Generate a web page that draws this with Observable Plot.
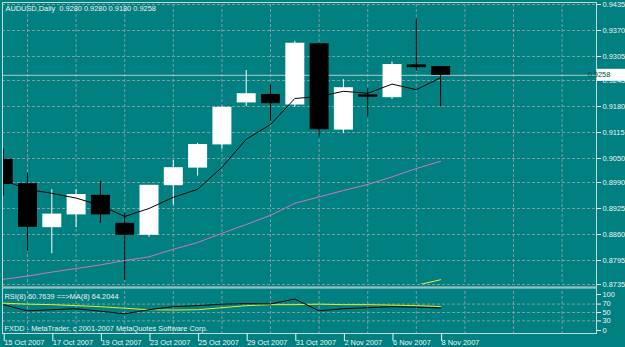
<!DOCTYPE html>
<html><head><meta charset="utf-8">
<script src="https://cdn.jsdelivr.net/npm/d3@7"></script>
<script src="https://cdn.jsdelivr.net/npm/@observablehq/plot@0.6"></script>
<style>
html,body{margin:0;padding:0;background:#008080;}
#wrap{position:relative;width:625px;height:347px;background:#008080;overflow:hidden;}
#wrap svg{position:absolute;left:0;background:transparent;overflow:visible;}
</style></head><body><div id="wrap"></div>
<script>
// ---- data ----
const dates = ["15 Oct 2007","16 Oct 2007","17 Oct 2007","18 Oct 2007","19 Oct 2007","22 Oct 2007","23 Oct 2007","24 Oct 2007","25 Oct 2007","26 Oct 2007","29 Oct 2007","30 Oct 2007","31 Oct 2007","1 Nov 2007","2 Nov 2007","5 Nov 2007","6 Nov 2007","7 Nov 2007","8 Nov 2007"];
const open  = [0.9048,0.8987,0.8877,0.8909,0.8958,0.8888,0.8858,0.8982,0.9026,0.9084,0.9189,0.9210,0.9184,0.9337,0.9121,0.9209,0.9202,0.9284,0.9280];
const high  = [0.9074,0.9013,0.8972,0.8972,0.8993,0.8913,0.8983,0.9045,0.9088,0.9180,0.9270,0.9234,0.9343,0.9338,0.9247,0.9224,0.9291,0.9398,0.9280];
const low   = [0.8956,0.8818,0.8812,0.8877,0.8888,0.8745,0.8853,0.8933,0.9006,0.9073,0.9180,0.9143,0.9178,0.9103,0.9112,0.9153,0.9198,0.9268,0.9180];
const close = [0.8985,0.8878,0.8911,0.8960,0.8909,0.8858,0.8983,0.9027,0.9085,0.9178,0.9212,0.9187,0.9338,0.9122,0.9227,0.9203,0.9285,0.9277,0.9258];
const maFast = [0.8996,0.8973,0.8963,0.8951,0.8933,0.8905,0.8925,0.8953,0.8973,0.9028,0.9098,0.9135,0.9200,0.9205,0.9218,0.9213,0.9236,0.9222,0.9252];
const maSlow = [0.8748,0.8756,0.8766,0.8775,0.8784,0.8795,0.8804,0.8823,0.8840,0.8863,0.8885,0.8908,0.8938,0.8954,0.8970,0.8985,0.9004,0.9025,0.9043];
const maThirdIdx = [17,18];
const maThird = [0.8733,0.8747];
const rsi   = [68.7,54.0,56.6,59.0,53.0,47.0,56.6,63.9,66.3,69.9,71.0,70.4,82.0,54.0,59.0,61.4,63.9,62.7,60.7639];
const rsiMa = [72.3,69.9,68.7,66.3,63.9,60.2,56.6,55.9,56.6,61.4,66.3,68.7,68.7,69.9,68.7,68.7,67.5,66.3,64.2044];
const priceTicks = [0.9435,0.9370,0.9305,0.9245,0.9180,0.9115,0.9050,0.8990,0.8925,0.8860,0.8795,0.8735];
const rsiTicks = [70,50,30];
const rsiTop = 100, rsiBottom = 0;
const dateTickIdx = [0,2,4,6,8,10,12,14,16,18];
const gridIdx = [1,3,5,7,9,11,13,15,17,19,21,23];
const bid = 0.9258;
const symbol = "AUDUSD,Daily";
const copyright = "FXDD - MetaTrader, c 2001-2007 MetaQuotes Software Corp.";

// ---- styles ----
const GRID = "#7c9ea2", BORDER = "#c4d8d8", TXT = "#f2f2f2";
const FONT = "'Liberation Sans', Arial, sans-serif";
const FS = "7.4px";
const xDomain = [-0.029, 24.415];
const fmt4 = d3.format(".4f");

const candles = dates.map((d,i)=>({i, o:open[i], h:high[i], l:low[i], c:close[i], f:maFast[i], s:maSlow[i]}));
const up = d => d.c >= d.o;
const third = maThirdIdx.map((i,k)=>({i, v:maThird[k]}));

const chart1 = Plot.plot({
  width: 625, height: 287,
  marginLeft: 2, marginRight: 29, marginTop: 4, marginBottom: 3,
  x: {domain: xDomain, axis: null, label: null},
  y: {domain: [0.8735, 0.9435], axis: null, label: null},
  style: {background: "transparent", color: TXT, fontFamily: FONT, fontSize: FS},
  marks: [
    Plot.ruleX(gridIdx, {stroke: GRID, strokeDasharray: "3,2"}),
    Plot.ruleY(priceTicks, {stroke: GRID, strokeDasharray: "3,2"}),
    Plot.ruleY([bid], {stroke: "#b4c8c8", strokeWidth: 1}),
    Plot.ruleX(candles, {filter: d=>!up(d), x: "i", y1: "l", y2: "h", stroke: "#000", clip: true}),
    Plot.ruleX(candles, {filter: up, x: "i", y1: "l", y2: "h", stroke: "#fff", clip: true}),
    Plot.ruleX(candles, {filter: d=>!up(d), x: "i", y1: "o", y2: "c", stroke: "#000", strokeWidth: 19, clip: true}),
    Plot.ruleX(candles, {filter: up, x: "i", y1: "o", y2: "c", stroke: "#fff", strokeWidth: 19, clip: true}),
    Plot.line(candles, {x: "i", y: "s", stroke: "#d072c4", strokeWidth: 1, clip: true}),
    Plot.line(candles, {x: "i", y: "f", stroke: "#000", strokeWidth: 1, clip: true}),
    Plot.line(third, {x: "i", y: "v", stroke: "#f0f030", strokeWidth: 1, clip: true}),
    Plot.frame({stroke: BORDER, insetTop: -2, insetBottom: -2.5}),
    Plot.axisY({anchor: "right", ticks: priceTicks, tickFormat: fmt4, tickSize: 4, tickPadding: 2, label: null, fill: TXT, stroke: TXT}),
    Plot.text([`${symbol}\u00a0\u00a0${fmt4(open[18])} ${fmt4(high[18])} ${fmt4(low[18])} ${fmt4(close[18])}`],
      {frameAnchor: "top-left", textAnchor: "start", lineAnchor: "middle", dx: 3, dy: 4, fill: TXT})
  ]
});
chart1.style.top = "0px";

// bid price box on the right axis, positioned through the y scale
{
  const yb = chart1.scale("y").apply(bid);
  const s = d3.select(chart1);
  s.append("rect").attr("x", 597).attr("y", yb - 6).attr("width", 28).attr("height", 12)
    .attr("fill", "#ffffff").attr("stroke", "none");
  s.append("text").attr("x", 599).attr("y", yb).attr("dy", "0.34em")
    .attr("fill", "#004848").attr("font-family", FONT).attr("font-size", FS).text(fmt4(bid));
}

const rsiData = rsi.map((v,i)=>({i, r:v, m:rsiMa[i]}));
const chart2 = Plot.plot({
  width: 625, height: 60,
  marginLeft: 2, marginRight: 29, marginTop: 4, marginBottom: 14,
  x: {domain: xDomain, axis: null, label: null},
  y: {domain: [rsiBottom, rsiTop], axis: null, label: null},
  style: {background: "transparent", color: TXT, fontFamily: FONT, fontSize: FS},
  marks: [
    Plot.ruleX(gridIdx, {stroke: GRID, strokeDasharray: "3,2"}),
    Plot.ruleY(rsiTicks, {stroke: GRID, strokeDasharray: "3,2"}),
    Plot.line(rsiData, {x: "i", y: "m", stroke: "#e2ee22", strokeWidth: 1}),
    Plot.line(rsiData, {x: "i", y: "r", stroke: "#000", strokeWidth: 1}),
    Plot.frame({stroke: BORDER, insetTop: -3.5}),
    Plot.axisY({anchor: "right", ticks: rsiTicks, tickSize: 4, tickPadding: 2, label: null, fill: TXT, stroke: TXT}),
    Plot.axisY({anchor: "right", ticks: [rsiTop], tickSize: 4, tickPadding: 2, dy: 3, label: null, fill: TXT, stroke: TXT}),
    Plot.axisY({anchor: "right", ticks: [rsiBottom], tickSize: 4, tickPadding: 2, dy: -3, label: null, fill: TXT, stroke: TXT}),
    Plot.axisX({anchor: "bottom", ticks: dateTickIdx, tickFormat: i => dates[i], tickSize: 8, tickPadding: -2,
      textAnchor: "start", dx: 1, label: null, fill: TXT, stroke: TXT}),
    Plot.text([`RSI(8) ${rsi[18].toFixed(4)} ==>MA(8) ${rsiMa[18].toFixed(4)}`],
      {frameAnchor: "top-left", textAnchor: "start", lineAnchor: "middle", dx: 2, dy: 5, fill: TXT}),
    Plot.text([copyright],
      {frameAnchor: "bottom-left", textAnchor: "start", lineAnchor: "middle", dx: 2, dy: -5.3, fill: TXT})
  ]
});
chart2.style.top = "287px";

const wrap = document.getElementById("wrap");
wrap.appendChild(chart1);
wrap.appendChild(chart2);
</script>
</body></html>
